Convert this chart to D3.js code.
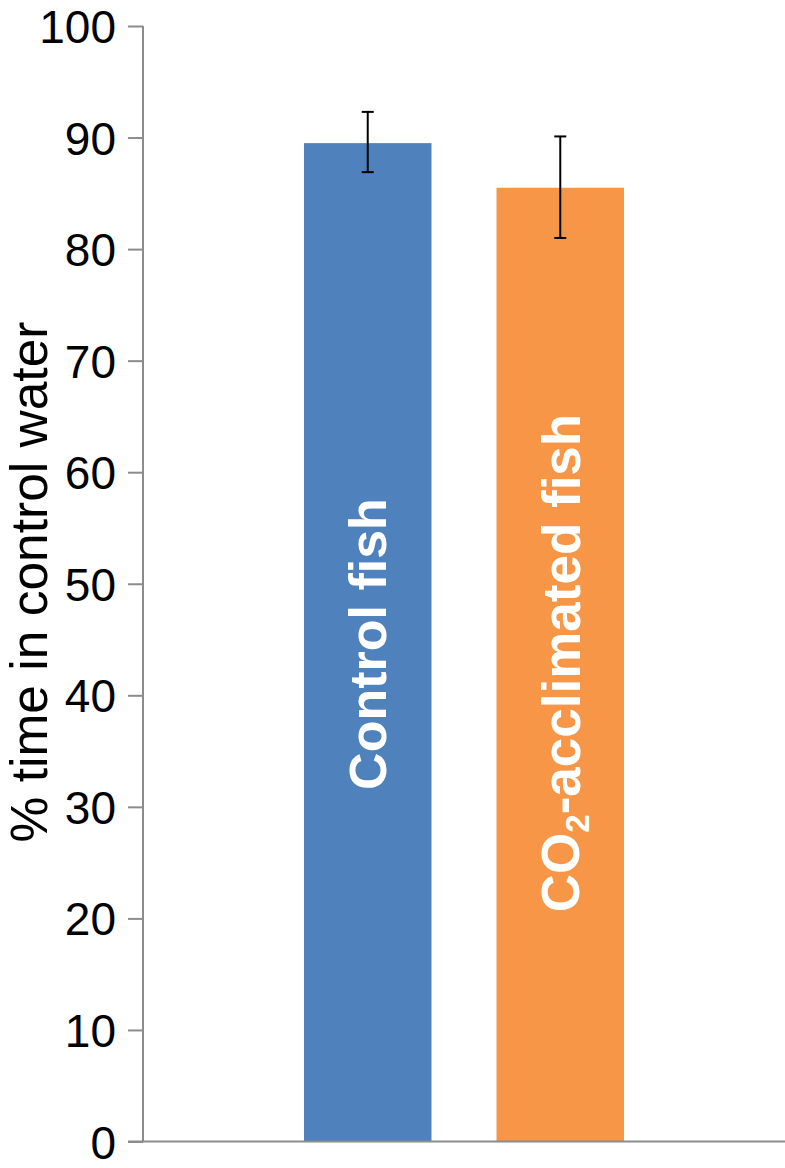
<!DOCTYPE html>
<html>
<head>
<meta charset="utf-8">
<script src="https://cdn.jsdelivr.net/npm/d3@7/dist/d3.min.js"></script>
<style>
  html, body { margin: 0; padding: 0; background: #fff; }
  svg { display: block; font-family: "Liberation Sans", Arial, Helvetica, sans-serif; }
</style>
</head>
<body>
<svg id="chart" width="785" height="1168"></svg>
<script>
// ---- data ----
const series = ["Control fish", "CO2-acclimated fish"];
const values = [89.5, 85.5];
const errLow = [86.9, 81.0];
const errHigh = [92.3, 90.1];
const colors = ["#4f81bd", "#f79646"];
const yTicks = [0, 10, 20, 30, 40, 50, 60, 70, 80, 90, 100];
const yLabel = "% time in control water";

// ---- layout ----
const W = 785, H = 1168;
const plot = { left: 143, right: 785, top: 26, bottom: 1141.5 };
const svg = d3.select("#chart");

const y = d3.scaleLinear().domain([0, 100]).range([plot.bottom, plot.top]);
const x = d3.scaleBand().domain(series).range([plot.left, plot.right])
  .paddingInner(0.3377).paddingOuter(0.836);

const axisColor = "#8c8c8c";

// bars
svg.append("g").selectAll("rect").data(series).join("rect")
  .attr("x", d => x(d))
  .attr("y", (d, i) => y(values[i]))
  .attr("width", x.bandwidth())
  .attr("height", (d, i) => y(0) - y(values[i]))
  .attr("fill", (d, i) => colors[i]);

// x baseline
svg.append("line")
  .attr("x1", plot.left - 15).attr("x2", W)
  .attr("y1", y(0)).attr("y2", y(0))
  .attr("stroke", axisColor).attr("stroke-width", 2);

// y axis
const yAxis = d3.axisLeft(y).tickValues(yTicks).tickSize(15).tickPadding(12).tickSizeOuter(0);
const gy = svg.append("g").attr("transform", `translate(${plot.left},0)`).call(yAxis);
gy.select(".domain").attr("stroke", axisColor).attr("stroke-width", 2)
  .attr("d", `M0,${y(100)}V${y(0)}`);
gy.selectAll(".tick line").attr("stroke", axisColor).attr("stroke-width", 2);
gy.selectAll(".tick text")
  .attr("fill", "#000")
  .style("font-size", "46px")
  .style("font-family", '"Liberation Sans", Arial, Helvetica, sans-serif')
  .attr("dy", "0.36em");

// error bars
const eb = svg.append("g").attr("stroke", "#000").attr("stroke-width", 2);
series.forEach((s, i) => {
  const cx = x(s) + x.bandwidth() / 2;
  eb.append("line").attr("x1", cx).attr("x2", cx).attr("y1", y(errLow[i])).attr("y2", y(errHigh[i]));
  eb.append("line").attr("x1", cx - 6).attr("x2", cx + 6).attr("y1", y(errLow[i])).attr("y2", y(errLow[i]));
  eb.append("line").attr("x1", cx - 6).attr("x2", cx + 6).attr("y1", y(errHigh[i])).attr("y2", y(errHigh[i]));
});

// y label
svg.append("text")
  .attr("transform", `translate(29,${582}) rotate(-90)`)
  .attr("text-anchor", "middle")
  .attr("dominant-baseline", "central")
  .style("font-size", "51.5px")
  .attr("fill", "#000")
  .text(yLabel);

// bar labels (rotated, white, bold)
const labelCenters = [644, 663];
const labelSizes = [52, 53];
series.forEach((s, i) => {
  const cx = x(s) + x.bandwidth() / 2;
  const t = svg.append("text")
    .attr("transform", `translate(${cx},${labelCenters[i]}) rotate(-90)`)
    .attr("text-anchor", "middle")
    .attr("dy", "0.36em")
    .attr("fill", "#fff")
    .style("font-weight", "bold")
    .style("font-size", labelSizes[i] + "px");
  if (s.startsWith("CO2")) {
    t.append("tspan").text("CO");
    t.append("tspan").text("2").style("font-size", "33px").attr("dy", "0.3em");
    t.append("tspan").text(s.slice(3)).attr("dy", "-0.18em");
  } else {
    t.text(s);
  }
});
</script>
</body>
</html>
